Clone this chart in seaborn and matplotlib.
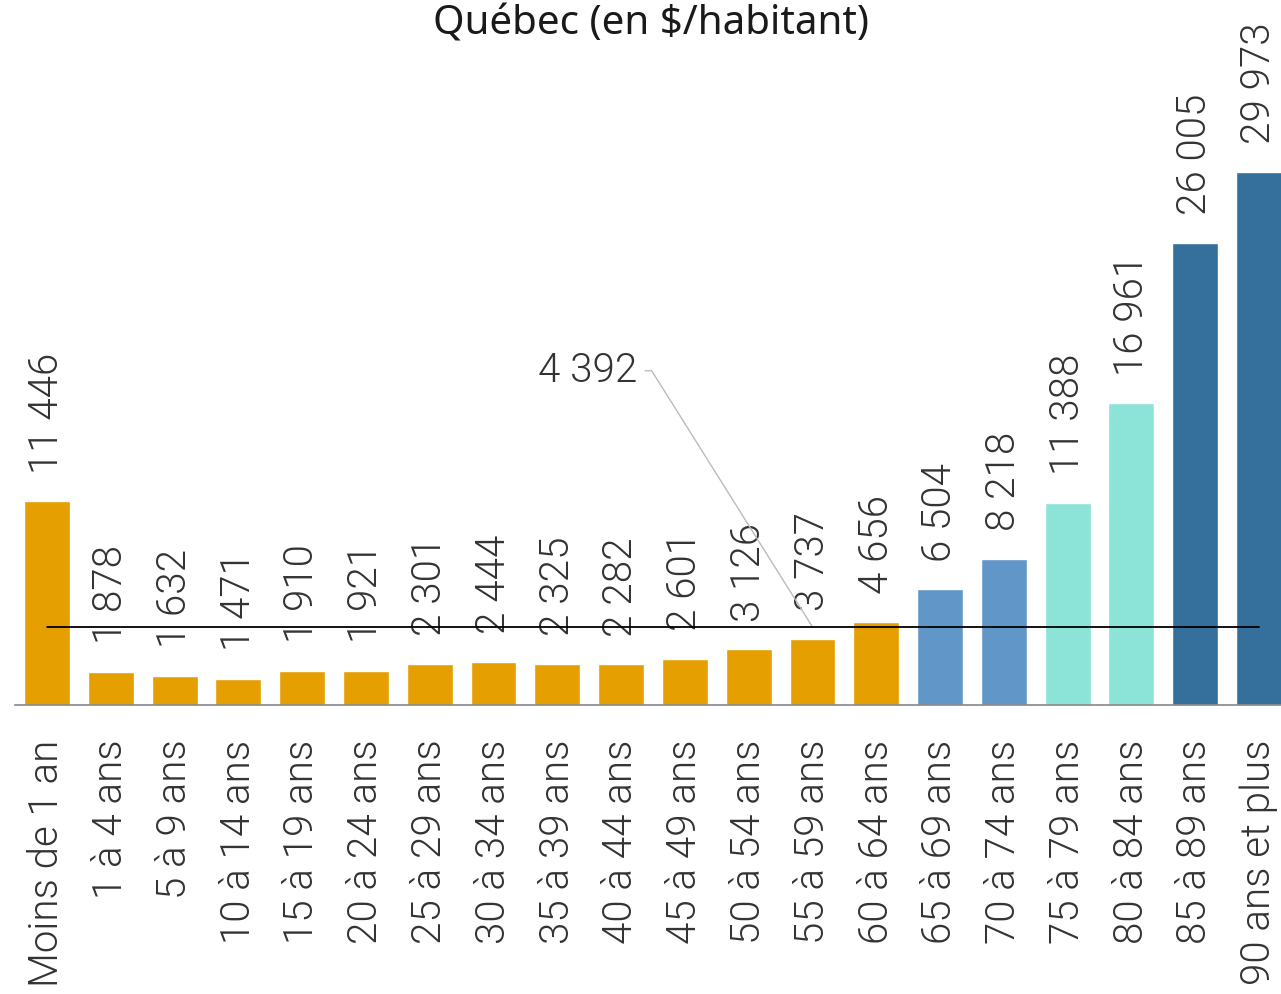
import matplotlib
matplotlib.use("Agg")
import matplotlib.pyplot as plt
import seaborn as sns

# ── Data ───────────────────────────────────────────────
age_groups = ["Moins de 1 an", "1 à 4 ans", "5 à 9 ans", "10 à 14 ans", "15 à 19 ans",
              "20 à 24 ans", "25 à 29 ans", "30 à 34 ans", "35 à 39 ans", "40 à 44 ans",
              "45 à 49 ans", "50 à 54 ans", "55 à 59 ans", "60 à 64 ans", "65 à 69 ans",
              "70 à 74 ans", "75 à 79 ans", "80 à 84 ans", "85 à 89 ans", "90 ans et plus"]
spending = [11446, 1878, 1632, 1471, 1910, 1921, 2301, 2444, 2325, 2282,
            2601, 3126, 3737, 4656, 6504, 8218, 11388, 16961, 26005, 29973]
average = 4392

ORANGE, MID_BLUE, TURQ, DARK_BLUE = "#E69F00", "#6097C8", "#8CE3D7", "#356F9B"
bar_colors = [ORANGE] * 14 + [MID_BLUE] * 2 + [TURQ] * 2 + [DARK_BLUE] * 2

sns.set_theme(style="white")
plt.rcParams["font.family"] = ["Roboto", "DejaVu Sans"]

TXT = "#333333"
W = 300  # light weight


def fmt(v):
    return f"{v:,}".replace(",", " ")


fig = plt.figure(figsize=(12.81, 9.94), dpi=100)
ax = fig.add_axes([0.01179, 0.29074, 0.99594, 0.70926])

sns.barplot(x=age_groups, y=spending, hue=age_groups, palette=bar_colors,
            legend=False, width=0.72, saturation=1, ax=ax)

ax.set_xlim(-0.5, len(age_groups) - 0.5)
ax.set_ylim(0, 39650)

# value labels
for i, v in enumerate(spending):
    ax.annotate(fmt(v), (i, v), xytext=(0, 20),
                textcoords="offset points", rotation=90, ha="center", va="bottom",
                fontsize=29, fontweight=W, color=TXT)

# average line + callout
ax.plot([0, len(age_groups) - 1], [average, average], color="black", lw=1.3, zorder=5)
ax.annotate(fmt(average), xy=(12, average), xytext=(9.26, 18800),
            ha="right", va="center", fontsize=29, fontweight=W, color=TXT,
            arrowprops=dict(arrowstyle="-", color="#BBBBBB", lw=1, relpos=(1, 0.5),
                            shrinkA=3, shrinkB=0,
                            connectionstyle="arc,angleA=0,armA=14,angleB=0,armB=0,rad=0"))

# axes styling
sns.despine(ax=ax, left=True, top=True, right=True)
ax.spines["bottom"].set_color("#888888")
ax.spines["bottom"].set_linewidth(1.2)
ax.set_yticks([])
ax.set_ylabel("")
ax.tick_params(axis="x", length=0, pad=25)
ax.set_xticks(range(len(age_groups)))
ax.set_xticklabels(age_groups, rotation=90, ha="center", va="top",
                   fontsize=29, fontweight=W, color=TXT)

fig.text(0.508, 0.9655, "Québec (en $/habitant)", ha="center", va="baseline",
         fontsize=29, color="#1a1a1a", family=["Noto Sans", "DejaVu Sans"])

fig.savefig("out.png", dpi=100)
